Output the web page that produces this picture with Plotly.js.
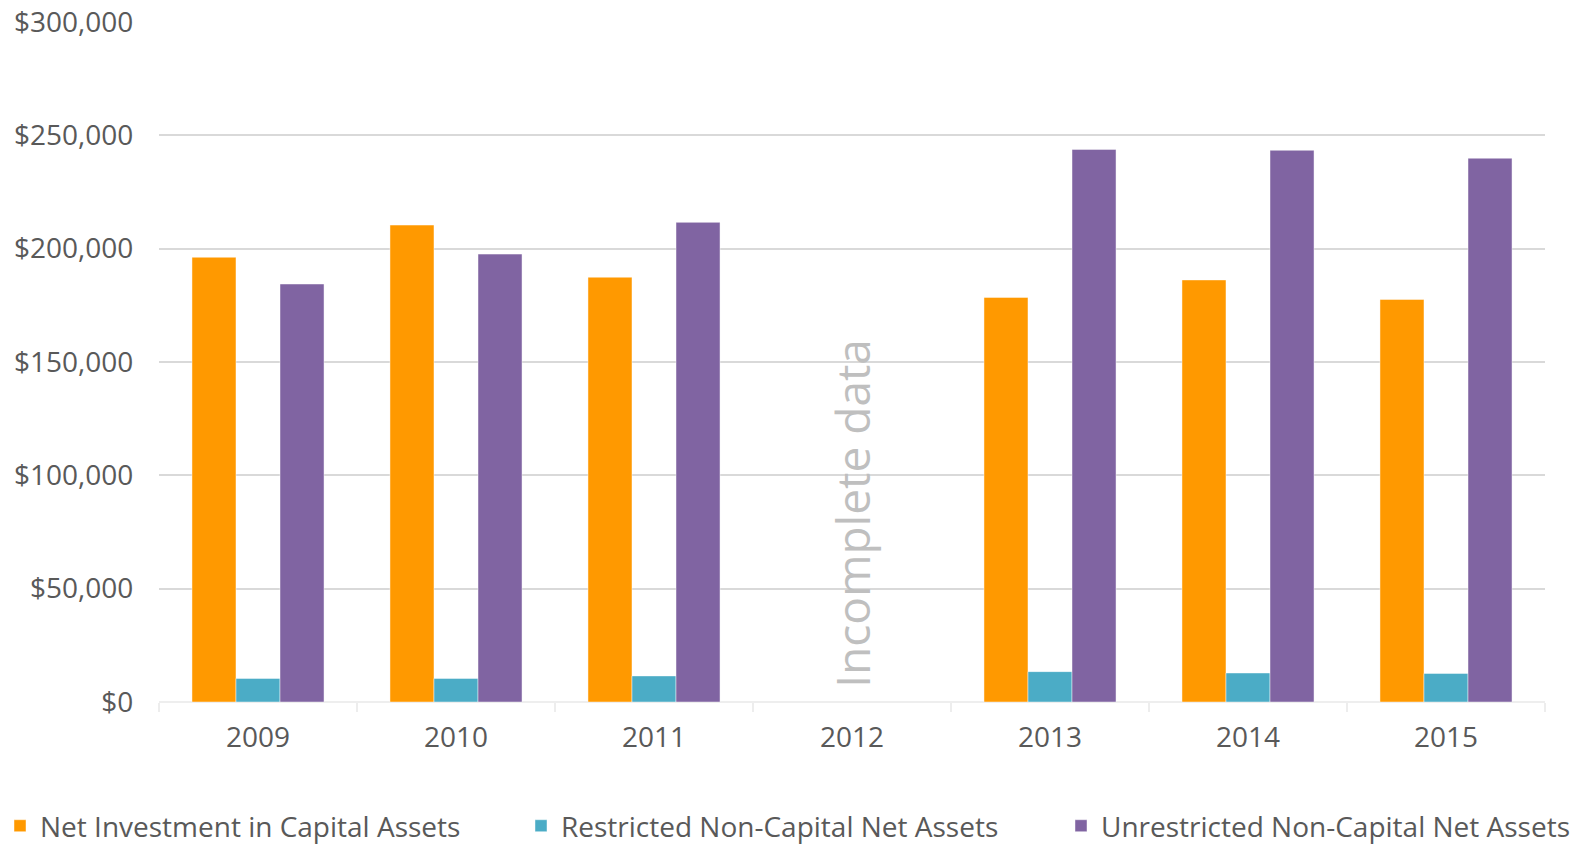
<!DOCTYPE html>
<html>
<head>
<meta charset="utf-8">
<script src="https://cdn.plot.ly/plotly-3.0.1.min.js"></script>
<style>
html, body { margin: 0; padding: 0; background: #ffffff; }
#chart { width: 1586px; height: 844px; }
</style>
</head>
<body>
<div id="chart"></div>
<script>
const years = ['2009', '2010', '2011', '2012', '2013', '2014', '2015'];
const netInvestment = [196200, 210400, 187400, null, 178500, 186200, 177600];
const restricted = [10400, 10400, 11500, null, 13400, 12800, 12600];
const unrestricted = [184400, 197600, 211600, null, 243800, 243400, 239900];
const seriesNames = ['Net Investment in Capital Assets', 'Restricted Non-Capital Net Assets', 'Unrestricted Non-Capital Net Assets'];
const yTicks = [0, 50000, 100000, 150000, 200000, 250000, 300000];
const noteText = 'Incomplete data';
const noteYear = '2012';
const noteValue = 83000;

const FONT = 'Open Sans, Noto Sans, sans-serif';
const TXT = '#595959';
const colors = ['#FF9900', '#4BACC6', '#8064A2'];
const vals = [netInvestment, restricted, unrestricted];
const legendIds = ['legend', 'legend2', 'legend3'];
const legendLeft = [0, 521, 1061];

const traces = vals.map((v, i) => ({
  type: 'bar',
  name: seriesNames[i],
  x: years,
  y: v,
  legend: legendIds[i],
  showlegend: true,
  marker: { color: colors[i], line: { color: 'rgba(255,255,255,0.45)', width: 1 } }
}));

const layout = {
  width: 1586,
  height: 844,
  margin: { l: 159, r: 41, t: 22, b: 142 },
  paper_bgcolor: '#ffffff',
  plot_bgcolor: '#ffffff',
  font: { family: FONT, size: 28, color: TXT },
  barmode: 'group',
  bargap: 0.333,
  bargroupgap: 0,
  showlegend: true,
  xaxis: {
    type: 'category',
    categoryorder: 'array',
    categoryarray: years,
    range: [-0.5, years.length - 0.5],
    autorange: false,
    tickson: 'boundaries',
    ticks: 'outside',
    ticklen: 9,
    tickwidth: 2,
    tickcolor: '#ededed',
    showline: false,
    showgrid: false,
    ticklabelstandoff: 16,
    tickfont: { family: FONT, size: 28, color: TXT }
  },
  yaxis: {
    range: [0, 300000],
    autorange: false,
    tickvals: yTicks,
    tickformat: '$,.0f',
    showgrid: true,
    gridcolor: '#d9d9d9',
    gridwidth: 2,
    zeroline: true,
    zerolinecolor: '#eeeeee',
    zerolinewidth: 2,
    ticks: 'outside',
    ticklen: 19,
    tickcolor: 'rgba(0,0,0,0)',
    tickfont: { family: FONT, size: 28, color: TXT }
  },
  annotations: [{
    x: years.indexOf(noteYear),
    y: noteValue,
    xref: 'x',
    yref: 'y',
    text: noteText,
    textangle: -90,
    showarrow: false,
    font: { family: FONT, size: 46, color: '#bfbfbf' }
  }]
};

legendIds.forEach((id, i) => {
  layout[id] = {
    orientation: 'h',
    xref: 'container',
    yref: 'container',
    x: legendLeft[i] / 1586,
    y: 0.0213,
    xanchor: 'left',
    yanchor: 'middle',
    font: { family: FONT, size: 28, color: TXT },
    bgcolor: 'rgba(0,0,0,0)',
    borderwidth: 0,
    visible: true
  };
});

Plotly.newPlot('chart', traces, layout, { displayModeBar: false, staticPlot: true });
</script>
</body>
</html>
